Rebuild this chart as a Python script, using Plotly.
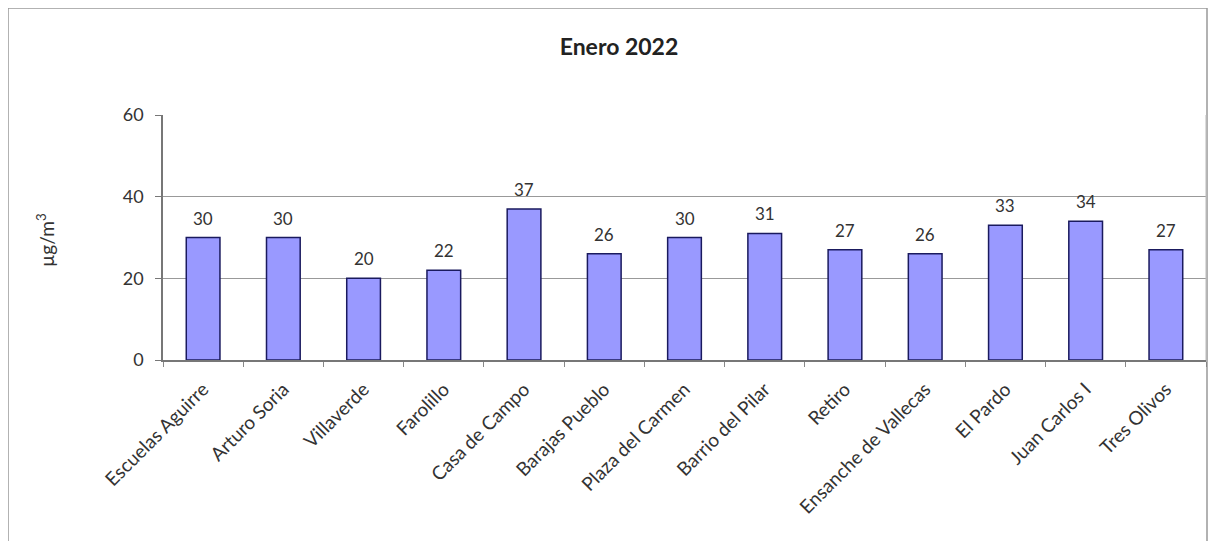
import plotly.graph_objects as go

categories = ["Escuelas Aguirre", "Arturo Soria", "Villaverde", "Farolillo", "Casa de Campo",
              "Barajas Pueblo", "Plaza del Carmen", "Barrio del Pilar", "Retiro",
              "Ensanche de Vallecas", "El Pardo", "Juan Carlos I", "Tres Olivos"]
values = [30, 30, 20, 22, 37, 26, 30, 31, 27, 26, 33, 34, 27]
y_ticks = [0, 20, 40, 60]
title_text = "Enero 2022"
y_title = "µg/m<sup>3</sup>"

# The page body has an 8px margin; the figure is sized and placed to fit inside it.
OFF = 8
W, H = 1226 - 2 * OFF, 549 - 2 * OFF
# plot area in screen pixels of the reference
PL, PR, PT, PB = 163, 1206, 115, 360
L, T = PL - OFF, PT - OFF
R, B = W - (PR - OFF), H - (PB - OFF)
pw, ph = W - L - R, H - T - B

FONT = "Lato, 'Open Sans', sans-serif"


def px_x(p):
    return (p - OFF - L) / pw


def px_y(p):
    return 1 - (p - OFF - T) / ph


fig = go.Figure(go.Bar(
    x=categories, y=values,
    width=0.42,
    marker=dict(color="#9999FF", line=dict(color="#1a1a5e", width=1.5)),
    cliponaxis=False,
))

label_annotations = [
    dict(x=c, y=v, xref="x", yref="y", text=str(v), showarrow=False,
         xanchor="center", yanchor="bottom", yshift=7,
         font=dict(family=FONT, size=17, color="#333333"))
    for c, v in zip(categories, values)
]

fig.update_layout(
    width=W, height=H,
    margin=dict(l=L, r=R, t=T, b=B, autoexpand=False),
    paper_bgcolor="white", plot_bgcolor="white",
    showlegend=False,
    title=dict(text="<b>" + title_text + "</b>", x=(619 - OFF) / W, xanchor="center",
               y=1 - (47 - OFF) / H, yanchor="middle",
               font=dict(family=FONT, size=23, color="#222222")),
    xaxis=dict(
        automargin=False,
        tickangle=-45, ticks="outside", tickson="boundaries", ticklen=5,
        tickcolor="#888888", showline=True, linecolor="#777777", linewidth=1.5,
        tickfont=dict(family=FONT, size=19, color="#333333"),
        ticklabelstandoff=9,
        showgrid=False,
    ),
    yaxis=dict(
        automargin=False,
        range=[0, 60], tickvals=y_ticks, ticks="outside", ticklen=6,
        tickcolor="#777777", showline=True, linecolor="#777777", linewidth=1.5,
        showgrid=True, gridcolor="#999999", gridwidth=1,
        tickfont=dict(family=FONT, size=18, color="#333333"),
        ticklabelstandoff=8,
        zeroline=False,
    ),
    annotations=label_annotations + [
        dict(text=y_title, xref="paper", yref="paper", x=px_x(45), y=px_y(240),
             xanchor="center", yanchor="middle", textangle=-90, showarrow=False,
             font=dict(family=FONT, size=19, color="#333333")),
    ],
    shapes=[
        dict(type="rect", xref="paper", yref="paper",
             x0=px_x(8), x1=px_x(1207), y0=px_y(560), y1=px_y(8),
             line=dict(color="#999999", width=1.5), fillcolor="rgba(0,0,0,0)",
             layer="below"),
        dict(type="line", xref="paper", yref="paper", x0=1, x1=1, y0=0, y1=1,
             line=dict(color="#bbbbbb", width=1)),
    ],
)

fig.write_html("out.html")
